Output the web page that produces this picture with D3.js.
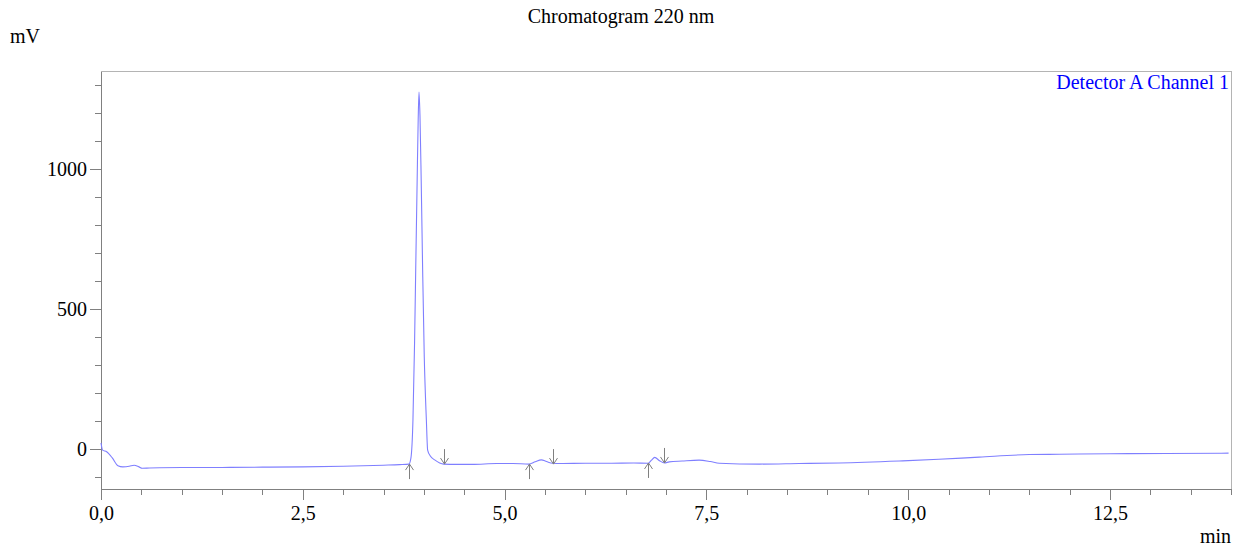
<!DOCTYPE html>
<html>
<head>
<meta charset="utf-8">
<script src="https://cdn.jsdelivr.net/npm/d3@7"></script>
<style>
  html, body { margin: 0; padding: 0; background: #fff; }
  svg { display: block; }
  svg text { font-family: "Times New Roman", "Liberation Serif", "DejaVu Serif", serif !important; }
</style>
</head>
<body>
<svg id="chart" width="1242" height="549"></svg>
<script>
// Retention time (min) and detector signal (mV)
const timeMin = [0, 0.02, 0.07, 0.14, 0.21, 0.27, 0.35, 0.41, 0.47, 0.51, 0.6, 0.73,
  1.0, 1.5, 2.0, 2.5, 3.0, 3.5, 3.7, 3.815, 3.84, 3.865, 3.885, 3.899, 3.917, 3.93,
  3.94, 3.952, 3.967, 3.985, 4.005, 4.031, 4.047, 4.08, 4.134, 4.196, 4.245, 4.4,
  4.6, 4.9, 5.1, 5.30, 5.38, 5.455, 5.52, 5.594, 5.7, 6.0, 6.3, 6.6, 6.78, 6.82,
  6.86, 6.92, 6.98, 7.04, 7.2, 7.41, 7.55, 7.66, 8.16, 8.65, 9.15, 9.89, 10.38,
  10.88, 11.5, 11.87, 12.5, 13.2, 13.97];
const signalMv = [22, -4, -10, -32, -60, -64, -62, -58, -64, -69, -68, -67,
  -66, -66, -65, -64, -62, -58, -56, -54, -32, 104, 380, 639, 961, 1180,
  1275, 1190, 961, 639, 330, 104, -4, -25, -39, -50, -54, -55,
  -55, -52, -52, -54, -46, -39, -45, -51, -52, -51, -51, -50, -51, -40,
  -30, -42, -50, -46, -43, -40, -45, -51, -54, -52, -50, -43, -37,
  -29, -20, -19, -17, -16, -15];

// Peak integration markers: start (up arrows) and end (down arrows)
const peakStartTimes = [3.815, 5.30, 6.78];
const peakStartMv = [-54, -54, -50];
const peakEndTimes = [4.245, 5.594, 6.98];
const peakEndMv = [-54, -54, -50];

// Axis ticks
const xMajorTicks = [0, 2.5, 5.0, 7.5, 10.0, 12.5];
const xMinorTicks = d3.range(0, 14.01, 0.5);
const yMajorTicks = [0, 500, 1000];
const yMinorTicks = d3.range(-100, 1301, 100);

const svg = d3.select("#chart");
const plotLeft = 101, plotRight = 1231, plotTop = 71, plotBottom = 489;
const serif = '"Times New Roman", "Liberation Serif", serif';

const x = d3.scaleLinear().domain([0, 14]).range([plotLeft, plotRight]);
const y = d3.scaleLinear().domain([-143, 1350]).range([plotBottom, plotTop]);

const commaFmt = d3.formatLocale({ decimal: ",", thousands: "", grouping: [3], currency: ["", ""] });
const fmtX = commaFmt.format(".1f");

// Frame (top and right edges in light gray)
svg.append("rect")
  .attr("x", plotLeft + 0.5).attr("y", plotTop + 0.5)
  .attr("width", plotRight - plotLeft).attr("height", plotBottom - plotTop)
  .attr("fill", "none").attr("stroke", "#b4b4b4").attr("stroke-width", 1)
  .attr("shape-rendering", "crispEdges");

function styleAxis(g) {
  g.attr("font-family", serif).attr("font-size", 20);
  g.selectAll("path.domain").attr("stroke", "#808080").attr("shape-rendering", "crispEdges");
  g.selectAll(".tick line").attr("stroke", "#808080").attr("shape-rendering", "crispEdges");
  g.selectAll(".tick text").attr("fill", "#000");
}

// Minor ticks
svg.append("g").attr("transform", `translate(0,${plotBottom})`)
  .call(d3.axisBottom(x).tickValues(xMinorTicks).tickSize(6).tickSizeOuter(0).tickFormat(""))
  .call(styleAxis);
svg.append("g").attr("transform", `translate(${plotLeft},0)`)
  .call(d3.axisLeft(y).tickValues(yMinorTicks).tickSize(6).tickSizeOuter(0).tickFormat(""))
  .call(styleAxis);

// Major ticks with labels
svg.append("g").attr("transform", `translate(0,${plotBottom})`)
  .call(d3.axisBottom(x).tickValues(xMajorTicks).tickSize(11).tickSizeOuter(0).tickPadding(6).tickFormat(fmtX))
  .call(styleAxis);
svg.append("g").attr("transform", `translate(${plotLeft},0)`)
  .call(d3.axisLeft(y).tickValues(yMajorTicks).tickSize(11).tickSizeOuter(0).tickPadding(3).tickFormat(d3.format("d")))
  .call(styleAxis);

// Signal trace
const data = timeMin.map((t, i) => ({ t, v: signalMv[i] }));
const line = d3.line().x(d => x(d.t)).y(d => y(d.v)).curve(d3.curveMonotoneX);
svg.append("path")
  .datum(data)
  .attr("d", line)
  .attr("fill", "none")
  .attr("stroke", "#7f7fff")
  .attr("stroke-width", 1.1);

// Peak markers
function arrow(t, v, dir) {
  // dir = -1 : pointing up from below, +1 : pointing down from above
  const px = Math.round(x(t)) + 0.5, tipY = y(v);
  const tailY = tipY - dir * 15;
  const g = svg.append("g").attr("stroke", "#808080").attr("stroke-width", 1).attr("fill", "none");
  g.append("line").attr("x1", px).attr("x2", px).attr("y1", tailY).attr("y2", tipY);
  g.append("path").attr("d", `M${px - 4},${tipY - dir * 6}L${px},${tipY}L${px + 4},${tipY - dir * 6}`);
}
peakStartTimes.forEach((t, i) => arrow(t, peakStartMv[i], -1));
peakEndTimes.forEach((t, i) => arrow(t, peakEndMv[i], 1));

// Titles and labels
const labels = svg.append("g").attr("font-family", serif).attr("font-size", 20);
labels.append("text").attr("x", 621).attr("y", 23).attr("text-anchor", "middle")
  .text("Chromatogram 220 nm");
labels.append("text").attr("x", 10).attr("y", 43).text("mV");
labels.append("text").attr("x", 1231).attr("y", 543).attr("text-anchor", "end").text("min");
labels.append("text").attr("x", 1229).attr("y", 89).attr("text-anchor", "end")
  .attr("fill", "#0000ff").text("Detector A Channel 1");
</script>
</body>
</html>
